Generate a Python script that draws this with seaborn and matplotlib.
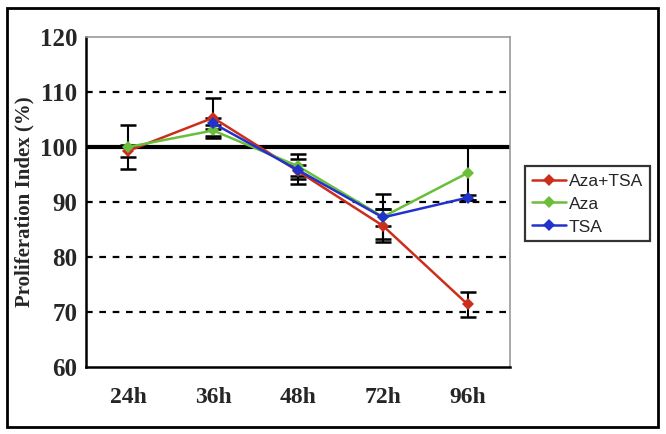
import pandas as pd
import seaborn as sns
import matplotlib.pyplot as plt
import numpy as np
from matplotlib.patches import Rectangle

# Data
times = ['24h', '36h', '48h', '72h', '96h']
aza_tsa = [99.3, 105.3, 95.6, 85.7, 71.4]
aza = [100.0, 103.0, 96.5, 87.3, 95.3]
tsa = [np.nan, 104.3, 95.8, 87.2, 90.8]
aza_tsa_err = [1.1, 3.6, 2.3, 3.0, 2.3]
aza_err = [4.0, 1.0, 2.3, 4.1, 4.9]
tsa_err = [np.nan, 1.0, 1.0, 1.6, 0.4]

series = ['Aza+TSA', 'Aza', 'TSA']
colors = ['#cc2e1c', '#6abf3a', '#2233cc']
yticks = [60, 70, 80, 90, 100, 110, 120]

df = pd.DataFrame({
    'time': times * 3,
    'value': aza_tsa + aza + tsa,
    'err': aza_tsa_err + aza_err + tsa_err,
    'group': np.repeat(series, len(times)),
})

sns.set_style("white")
plt.rcParams['font.family'] = ['Liberation Serif', 'DejaVu Serif']

fig = plt.figure(figsize=(6.66, 4.34), dpi=100)
ax = fig.add_axes([0.129, 0.154, 0.637, 0.761])

# reference lines
for v in [70, 80, 90, 110]:
    ax.axhline(v, color='black', linestyle=(0, (3, 3)), linewidth=1.6, zorder=0)
ax.axhline(100, color='black', linewidth=3, zorder=1)

sns.lineplot(data=df, x='time', y='value', hue='group', hue_order=series,
             palette=colors, marker='D', markersize=6, markeredgewidth=0,
             linewidth=1.8, ax=ax, zorder=3, sort=False)

# error bars (black, capped)
for g in series:
    sub = df[df['group'] == g].dropna()
    ax.errorbar(sub['time'], sub['value'], yerr=sub['err'], fmt='none',
                ecolor='black', elinewidth=1.5, capsize=6, capthick=1.8, zorder=2)

ax.set_xlim(-0.5, 4.5)
ax.set_ylim(60, 120)
ax.set_yticks(yticks)
ax.set_yticklabels([str(t) for t in yticks], fontsize=18, fontweight='bold')
ax.set_xticks(range(len(times)))
ax.set_xticklabels(times, fontsize=17, fontweight='bold')
ax.tick_params(axis='x', length=0, pad=14)
ax.set_xticks(np.arange(-0.5, len(times)), minor=True)
ax.tick_params(axis='x', which='minor', direction='out', length=5, width=1.5, color='black')
ax.tick_params(axis='y', direction='out', length=5, width=1.5, color='black', pad=1)
ax.set_xlabel('')
ax.set_ylabel('Proliferation Index (%)', fontsize=15, fontweight='bold', labelpad=4)

for s in ['left', 'bottom']:
    ax.spines[s].set_color('black')
    ax.spines[s].set_linewidth(1.8)
for s in ['top', 'right']:
    ax.spines[s].set_color('#999999')
    ax.spines[s].set_linewidth(1.2)

leg = ax.legend(loc='center left', bbox_to_anchor=(0.788, 0.530),
                bbox_transform=fig.transFigure, frameon=True, fancybox=False,
                prop={'family': 'Liberation Sans', 'size': 12.5},
                handlelength=2.0, handletextpad=0.15, labelspacing=0.45,
                borderpad=0.4, borderaxespad=0)
leg.get_frame().set_edgecolor('black')
leg.get_frame().set_linewidth(1.6)

# outer figure border
fig.patches.append(Rectangle((0.011, 0.016), 0.977, 0.966, transform=fig.transFigure,
                             fill=False, edgecolor='black', linewidth=2))

plt.savefig('out.png', dpi=100)
plt.close()
